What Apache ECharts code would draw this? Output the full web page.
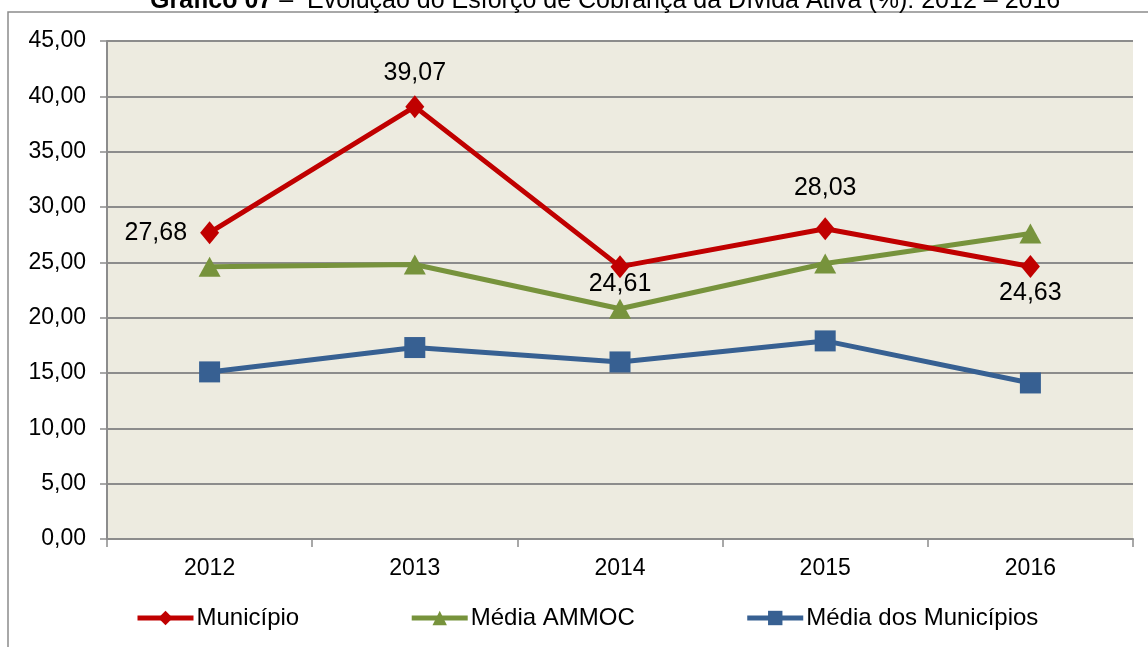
<!DOCTYPE html>
<html>
<head>
<meta charset="utf-8">
<script src="https://cdn.jsdelivr.net/npm/echarts@6/dist/echarts.min.js"></script>
<style>
  html, body { margin: 0; padding: 0; background: #fff; }
  #chart { width: 1148px; height: 647px; }
</style>
</head>
<body>
<div id="chart"></div>
<script>
// anos e valores
const years = ["2012", "2013", "2014", "2015", "2016"];
const municipio = [27.68, 39.07, 24.61, 28.03, 24.63];
const mediaAmmoc = [24.6, 24.8, 20.8, 24.9, 27.6];
const mediaMunicipios = [15.1, 17.3, 16.0, 17.9, 14.1];
const labelPos = ["left", "top", "bottom", "top", "bottom"];
const labelDist = [13, 10, -7, 17, 3];

const fmt = (v) => v.toFixed(2).replace(".", ",");
const font = "Liberation Sans, Arial, sans-serif";

const chart = echarts.init(document.getElementById("chart"));

chart.setOption({
    animation: false,
    textStyle: { fontFamily: font },
    title: {
        text: "{b|Gráfico 07} –  Evolução do Esforço de Cobrança da Dívida Ativa (%): 2012 – 2016",
        left: 145,
        top: -16,
        textStyle: {
            fontFamily: font,
            fontSize: 25,
            fontWeight: "normal",
            color: "#000",
            rich: { b: { fontFamily: font, fontSize: 25, fontWeight: "bold", color: "#000" } },
        },
    },
    graphic: [{
        type: "rect",
        shape: { x: 8, y: 12, width: 1150, height: 650 },
        style: { fill: "none", stroke: "#8c8c8c", lineWidth: 1.5 },
        silent: true,
    }],
    legend: {
        bottom: 12,
        left: 130,
        itemGap: 110,
        itemWidth: 56,
        itemHeight: 18,
        lineStyle: { width: 5 },
        textStyle: { fontFamily: font, fontSize: 24, color: "#000", padding: [0, 0, 0, -2] },
        data: ["Município", "Média AMMOC", "Média dos Municípios"],
    },
    grid: {
        left: 107,
        right: 15,
        top: 41,
        bottom: 108,
        show: true,
        backgroundColor: "#edebe0",
        borderWidth: 0,
    },
    xAxis: {
        type: "category",
        data: years,
        boundaryGap: true,
        axisLine: { lineStyle: { color: "#8c8c8c", width: 2 } },
        axisTick: { show: true, length: 8, lineStyle: { color: "#8c8c8c", width: 1.5 } },
        axisLabel: { fontSize: 23, color: "#000", margin: 18, fontFamily: font },
    },
    yAxis: {
        type: "value",
        min: 0,
        max: 45,
        interval: 5,
        axisLine: { show: true, lineStyle: { color: "#8c8c8c", width: 2 } },
        axisTick: { show: true, length: 7, lineStyle: { color: "#8c8c8c", width: 1.5 } },
        axisLabel: { fontSize: 23, color: "#000", margin: 21, fontFamily: font, formatter: fmt },
        splitLine: { lineStyle: { color: "#8c8c8c", width: 2 } },
    },
    series: [
        {
            name: "Média dos Municípios",
            type: "line",
            data: mediaMunicipios,
            symbol: "rect",
            symbolSize: 21,
            color: "#376092",
            lineStyle: { width: 5 },
            z: 3,
        },
        {
            name: "Média AMMOC",
            type: "line",
            data: mediaAmmoc,
            symbol: "triangle",
            symbolSize: [22, 20],
            color: "#77933c",
            lineStyle: { width: 5 },
            z: 4,
        },
        {
            name: "Município",
            type: "line",
            data: municipio.map((v, i) => ({
                value: v,
                label: { position: labelPos[i], distance: labelDist[i] },
            })),
            symbol: "diamond",
            symbolSize: [19, 23],
            color: "#c00000",
            lineStyle: { width: 5 },
            z: 5,
            label: {
                show: true,
                fontSize: 25,
                color: "#000",
                fontFamily: font,
                formatter: (p) => fmt(p.value),
            },
        },
    ],
});
</script>
</body>
</html>
